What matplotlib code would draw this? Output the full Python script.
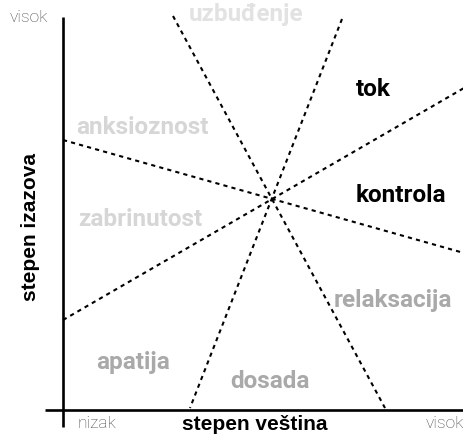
import matplotlib.pyplot as plt

# granice zona: (x0, y0) -> (x1, y1), koordinate u jedinicama vestine / izazova
boundary_lines = [
    ((0, 270), (401, 157)),
    ((0, 90), (401, 322)),
    ((110, 394), (322, 2)),
    ((279, 391), (127, 2)),
]

# zone: tekst, polozaj, boja
zone_names = ['uzbuđenje', 'tok', 'anksioznost', 'kontrola', 'zabrinutost',
              'relaksacija', 'apatija', 'dosada']
zone_pos = [(183, 395), (310, 320), (79, 282), (338, 215), (77, 190),
            (330, 110), (70, 47), (207, 28)]
zone_colors = ['#e2e2e2', '#000000', '#d6d6d6', '#000000', '#d6d6d6',
               '#a9a9a9', '#a9a9a9', '#a9a9a9']

fig = plt.figure(figsize=(4.64, 4.37), dpi=100)
ax = fig.add_axes([0, 0, 1, 1])
ax.set_xlim(-63, 401)
ax.set_ylim(-27, 410)
ax.axis('off')

# ose
ax.plot([0, 0], [-17, 393], color='black', lw=1.9, solid_capstyle='butt')
ax.plot([-18, 401], [0, 0], color='black', lw=1.9, solid_capstyle='butt')

for (x0, y0), (x1, y1) in boundary_lines:
    ax.plot([x0, x1], [y0, y1], color='black', lw=1.5, linestyle=(0, (2, 2)))

for name, (x, y), c in zip(zone_names, zone_pos, zone_colors):
    ax.text(x, y, name, color=c, fontsize=17.5, fontweight='bold',
            family='Roboto', ha='center', va='center')

ax.text(192, -14, 'stepen veština', fontsize=15, fontweight='bold',
        family='Liberation Sans', ha='center', va='center')
ax.text(-32, 183, 'stepen izazova', fontsize=15, fontweight='bold',
        family='Liberation Sans', ha='center', va='center', rotation=90)

ax.text(15, -13, 'nizak', fontsize=12.5, color='#4a4a4a', family='Roboto',
        fontweight='light', ha='left', va='center')
ax.text(401, -13, 'visok', fontsize=12.5, color='#4a4a4a', family='Roboto',
        fontweight='light', ha='right', va='center')
ax.text(-15, 392, 'visok', fontsize=12.5, color='#4a4a4a', family='Roboto',
        fontweight='light', ha='right', va='center')

plt.savefig('out.png', dpi=100)
